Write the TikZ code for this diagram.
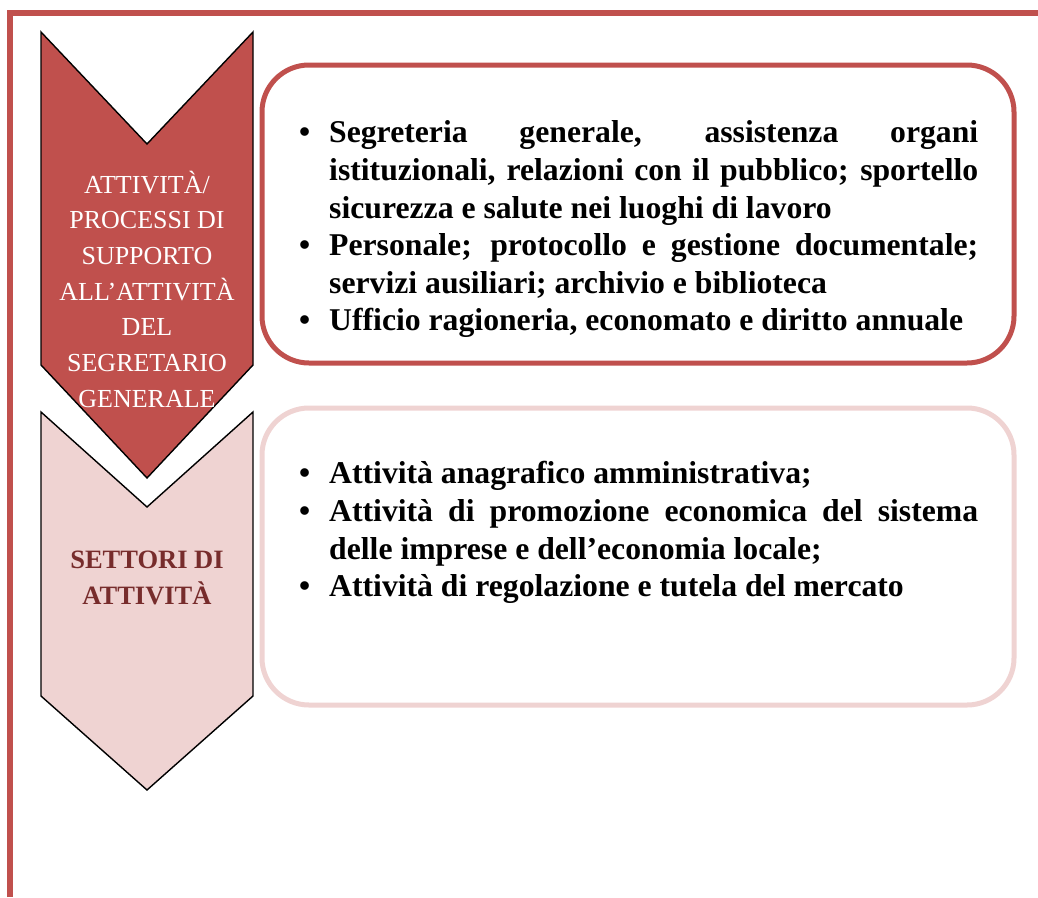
\documentclass[tikz,border=0pt]{standalone}
\usepackage{fontspec}
\setmainfont{Liberation Serif}
\definecolor{accred}{HTML}{C0504D}
\definecolor{accpink}{HTML}{EFD3D2}
\definecolor{deepred}{HTML}{772C2C}
\newcommand{\bulletitem}{\par\noindent\llap{\textbullet\hspace{19pt}}\strut}

\begin{document}
\begin{tikzpicture}[x=1pt,y=-1pt,
    chevron/.style={draw=black,line width=1.4pt,line join=miter},
    panel/.style={line width=5pt,rounded corners=47pt},
    label/.style={anchor=north,align=center,inner sep=0pt},
    items/.style={anchor=north west,inner sep=0pt,text width=649pt,align=justify,
      font=\fontsize{31.7}{37.6}\selectfont\bfseries}]
    \useasboundingbox (0,0) rectangle (1038,897);
    \draw[accred,line width=6pt,line join=miter] (10,897) -- (10,13) -- (1040,13);

    \filldraw[chevron,fill=accred]
      (41,32) -- (147,144) -- (253,32) -- (253,365) -- (147,478) -- (41,365) -- cycle;
    \filldraw[chevron,fill=accpink]
      (41,412) -- (147,507) -- (253,412) -- (253,696) -- (147,790) -- (41,696) -- cycle;

    \draw[panel,draw=accred] (262,65) rectangle (1014,363);
    \draw[panel,draw=accpink] (262,408) rectangle (1014,705);

    \node[label,text=white,font=\fontsize{26}{35.7}\selectfont] at (147,168) (proc)
      {\strut ATTIVITÀ/\\PROCESSI DI\\SUPPORTO\\ALL’ATTIVITÀ\\DEL\\SEGRETARIO\\GENERALE};
    \node[label,text=deepred,font=\fontsize{26.5}{36}\selectfont\bfseries] at (147,542.8) (sett)
      {\strut SETTORI DI\\ATTIVITÀ};

    \node[items] at (329,105) (supp) {\tolerance=10000
      \bulletitem Segreteria generale, assistenza organi\linebreak
      istituzionali, relazioni con il pubblico; sportello\linebreak
      sicurezza e salute nei luoghi di lavoro
      \bulletitem Personale; protocollo e gestione documentale;\linebreak
      servizi ausiliari; archivio e biblioteca
      \bulletitem Ufficio ragioneria, economato e diritto annuale\par};
    \node[items] at (329,446) (core) {\tolerance=10000
      \bulletitem Attività anagrafico amministrativa;
      \bulletitem Attività di promozione economica del sistema\linebreak
      delle imprese e dell’economia locale;
      \bulletitem Attività di regolazione e tutela del mercato\par};
  \end{tikzpicture}
\end{document}
